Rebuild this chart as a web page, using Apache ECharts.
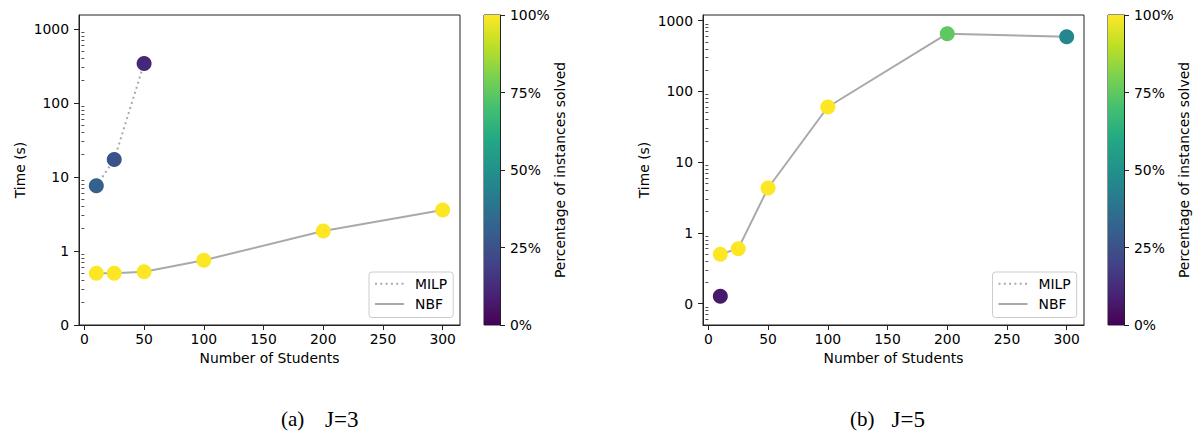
<!DOCTYPE html>
<html>
<head>
<meta charset="utf-8">
<script src="https://cdn.jsdelivr.net/npm/echarts@6/dist/echarts.min.js"></script>
<style>
html,body{margin:0;padding:0;background:#fff;}
#chart{width:1195px;height:433px;}
</style>
</head>
<body>
<div id="chart"></div>
<script>
// ---------- data ----------
const xTicks = [0, 50, 100, 150, 200, 250, 300];
const yMajorTicks = [0.1, 1, 10, 100, 1000];
const yMajorLabels = ['0', '1', '10', '100', '1000'];
const yMinorTicksA = [0.2,0.3,0.4,0.5,0.6,0.7,0.8,0.9, 2,3,4,5,6,7,8,9, 20,30,40,50,60,70,80,90, 200,300,400,500,600,700,800,900];
const yMinorTicksB = [0.05,0.06,0.07,0.08,0.09, 0.2,0.3,0.4,0.5,0.6,0.7,0.8,0.9, 2,3,4,5,6,7,8,9, 20,30,40,50,60,70,80,90, 200,300,400,500,600,700,800,900];
const cbTicks = [0, 25, 50, 75, 100];

// (a) J=3
const milpSizesA = [10, 25, 50];
const milpTimesA = [7.6, 17.2, 343];
const milpPctA   = [31, 25, 11];
const nbfSizesA  = [10, 25, 50, 100, 200, 300];
const nbfTimesA  = [0.5, 0.5, 0.525, 0.75, 1.86, 3.58];
const nbfPctA    = [100, 100, 100, 100, 100, 100];

// (b) J=5
const milpSizesB = [10];
const milpTimesB = [0.127];
const milpPctB   = [7];
const nbfSizesB  = [10, 25, 50, 100, 200, 300];
const nbfTimesB  = [0.5, 0.6, 4.32, 60.3, 655, 594];
const nbfPctB    = [100, 100, 100, 100, 75, 46];

const viridis = ['#440154','#482475','#414487','#355f8d','#2a788e','#21918c','#22a884','#44bf70','#7ad151','#bddf26','#fde725'];

// ---------- helpers ----------
const FONT = 'DejaVu Sans';
const FS = 13.9;
const AX = '#222';
function pairs(xs, ys) { return xs.map((x, i) => [x, ys[i]]); }
function triples(xs, ys, cs) { return xs.map((x, i) => [x, ys[i], cs[i]]); }
function yLabel(v) {
  for (let i = 0; i < yMajorTicks.length; i++) {
    if (Math.abs(Math.log10(v) - Math.log10(yMajorTicks[i])) < 1e-6) return yMajorLabels[i];
  }
  return '';
}
function mainGrid(left) {
  return { left: left, top: 15, width: 381, height: 310, show: true, borderColor: AX, borderWidth: 1,
           backgroundColor: 'transparent', containLabel: false, outerBoundsMode: 'none' };
}
function cbGrid(left) {
  return { left: left, top: 15, width: 16, height: 310, show: true, borderColor: AX, borderWidth: 1,
           containLabel: false, outerBoundsMode: 'none' };
}
function xMain(gi) {
  return {
    type: 'value', gridIndex: gi, min: -4.5, max: 314.5,
    name: 'Number of Students', nameLocation: 'middle', nameGap: 26, nameMoveOverlap: false,
    nameTextStyle: { fontFamily: FONT, fontSize: FS, color: '#000' },
    axisLine: { show: true, onZero: false, lineStyle: { color: AX, width: 1 } },
    axisTick: { show: true, inside: false, length: 5, customValues: xTicks, lineStyle: { color: AX, width: 1 } },
    axisLabel: { show: true, margin: 7, customValues: xTicks, fontFamily: FONT, fontSize: FS, color: '#000' },
    splitLine: { show: false }
  };
}
function xCb(gi) {
  return { type: 'category', gridIndex: gi, data: ['c'], show: false, boundaryGap: true };
}
function yMain(gi, min, max) {
  return {
    type: 'log', logBase: 10, gridIndex: gi, min: min, max: max,
    name: 'Time (s)', nameLocation: 'middle', nameGap: 52, nameRotate: 90, nameMoveOverlap: false,
    nameTextStyle: { fontFamily: FONT, fontSize: FS, color: '#000' },
    axisLine: { show: true, onZero: false, lineStyle: { color: AX, width: 1 } },
    axisTick: { show: true, inside: false, length: 5, customValues: yMajorTicks, lineStyle: { color: AX, width: 1 } },
    axisLabel: { show: true, margin: 10, customValues: yMajorTicks, formatter: yLabel, fontFamily: FONT, fontSize: FS, color: '#000' },
    splitLine: { show: false }, minorTick: { show: false }
  };
}
function yMinor(gi, min, max, ticks) {
  return {
    type: 'log', logBase: 10, gridIndex: gi, min: min, max: max, position: 'left', offset: 0,
    axisLine: { show: false },
    axisTick: { show: true, inside: false, length: 3, customValues: ticks, lineStyle: { color: AX, width: 0.8 } },
    axisLabel: { show: false },
    splitLine: { show: false }
  };
}
function yCb(gi) {
  return {
    type: 'value', gridIndex: gi, min: 0, max: 100, interval: 25, position: 'right',
    name: 'Percentage of instances solved', nameLocation: 'middle', nameGap: 53, nameRotate: 90, nameMoveOverlap: false,
    nameTextStyle: { fontFamily: FONT, fontSize: FS, color: '#000' },
    axisLine: { show: true, lineStyle: { color: AX, width: 1 } },
    axisTick: { show: true, inside: false, length: 5, customValues: cbTicks, lineStyle: { color: AX, width: 1 } },
    axisLabel: { show: true, margin: 10, customValues: cbTicks, formatter: v => v + '%', fontFamily: FONT, fontSize: FS, color: '#000' },
    splitLine: { show: false }
  };
}
const LINE_COLOR = '#a9a9a9';
function lineSeries(name, xi, yi, data, dotted) {
  return {
    type: 'line', name: name, xAxisIndex: xi, yAxisIndex: yi, data: data,
    symbol: 'none', showSymbol: false, smooth: false, z: 2, silent: true,
    itemStyle: { color: LINE_COLOR },
    lineStyle: { color: LINE_COLOR, width: 2, type: dotted ? [2, 3.3] : 'solid', cap: 'butt' }
  };
}
function scatterSeries(name, xi, yi, data) {
  return {
    type: 'scatter', name: name, xAxisIndex: xi, yAxisIndex: yi, data: data,
    symbol: 'circle', symbolSize: 15, z: 5, silent: true,
    itemStyle: { opacity: 1, borderWidth: 0 }
  };
}
function cbSeries(xi, yi) {
  return {
    type: 'bar', xAxisIndex: xi, yAxisIndex: yi, data: [100], barWidth: '100%', silent: true, z: 1,
    itemStyle: {
      color: {
        type: 'linear', x: 0, y: 1, x2: 0, y2: 0,
        colorStops: viridis.map((c, i) => ({ offset: i / (viridis.length - 1), color: c }))
      }
    }
  };
}
function legendAt(left) {
  return {
    show: true, orient: 'vertical', left: left, top: 272,
    data: ['MILP', 'NBF'],
    itemWidth: 29, itemHeight: 14, itemGap: 6.3,
    padding: [4.7, 6, 6.5, 5],
    itemStyle: { opacity: 0 },
    lineStyle: { width: 2, color: LINE_COLOR },
    backgroundColor: 'rgba(255,255,255,0.8)', borderColor: '#cccccc', borderWidth: 1, borderRadius: 3,
    textStyle: { fontFamily: FONT, fontSize: FS, color: '#000', padding: [0, 0, 0, 6] },
    selectedMode: false
  };
}
function caption(text, left, size) {
  return {
    text: text, left: left, top: 407, padding: 0,
    textStyle: { fontFamily: 'Liberation Serif', fontSize: size, fontWeight: 'normal', color: '#000', lineHeight: 24 }
  };
}

const option = {
  animation: false,
  backgroundColor: '#fff',
  title: [
    caption('(a)', 281, 21), caption('J=3', 325, 23),
    caption('(b)', 850, 21), caption('J=5', 891.5, 23)
  ],
  grid: [mainGrid(79), cbGrid(484), mainGrid(703), cbGrid(1108)],
  xAxis: [xMain(0), xCb(1), xMain(2), xCb(3)],
  yAxis: [
    yMain(0, 0.1, 1546), yMinor(0, 0.1, 1546, yMinorTicksA), yCb(1),
    yMain(2, 0.05, 1203), yMinor(2, 0.05, 1203, yMinorTicksB), yCb(3)
  ],
  legend: [legendAt(369), legendAt(992.5)],
  visualMap: [{
    type: 'continuous', show: false, min: 0, max: 100, dimension: 2,
    seriesIndex: [2, 3, 7, 8], inRange: { color: viridis }
  }],
  series: [
    lineSeries('MILP', 0, 0, pairs(milpSizesA, milpTimesA), true),
    lineSeries('NBF', 0, 0, pairs(nbfSizesA, nbfTimesA), false),
    scatterSeries('MILP points (a)', 0, 0, triples(milpSizesA, milpTimesA, milpPctA)),
    scatterSeries('NBF points (a)', 0, 0, triples(nbfSizesA, nbfTimesA, nbfPctA)),
    cbSeries(1, 2),
    lineSeries('MILP', 2, 3, pairs(milpSizesB, milpTimesB), true),
    lineSeries('NBF', 2, 3, pairs(nbfSizesB, nbfTimesB), false),
    scatterSeries('MILP points (b)', 2, 3, triples(milpSizesB, milpTimesB, milpPctB)),
    scatterSeries('NBF points (b)', 2, 3, triples(nbfSizesB, nbfTimesB, nbfPctB)),
    cbSeries(3, 5)
  ]
};

const chart = echarts.init(document.getElementById('chart'), null, { renderer: 'svg', width: 1195, height: 433 });
chart.setOption(option);
</script>
</body>
</html>
